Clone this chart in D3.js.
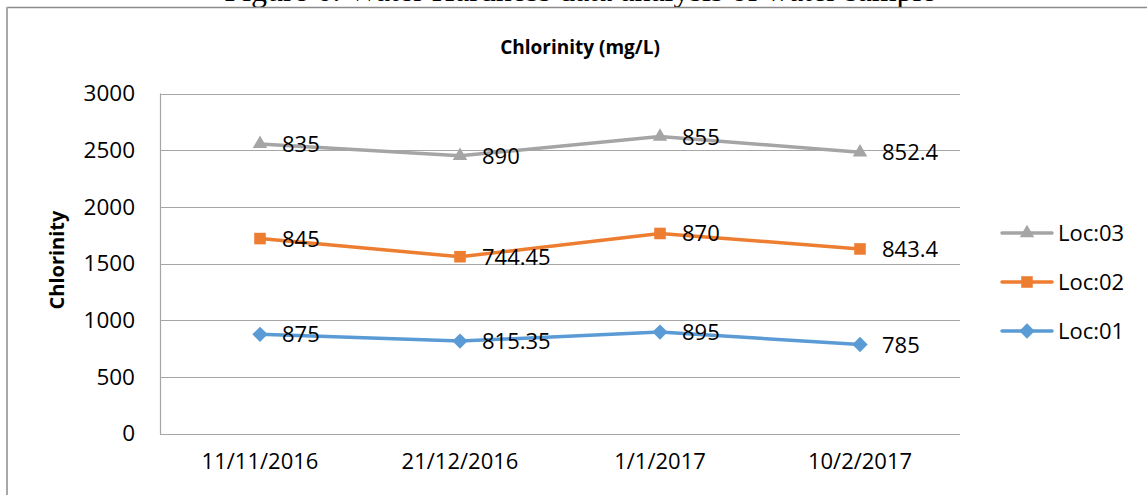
<!DOCTYPE html>
<html><head><meta charset="utf-8">
<script src="https://cdn.jsdelivr.net/npm/d3@7"></script>
<style>body{margin:0;background:#fff}svg{display:block}</style>
</head><body>
<script>
const categories = ["11/11/2016","21/12/2016","1/1/2017","10/2/2017"];
const loc01 = [875, 815.35, 895, 785];
const loc02 = [845, 744.45, 870, 843.4];
const loc03 = [835, 890, 855, 852.4];
const seriesNames = ["Loc:01","Loc:02","Loc:03"];
const yTicks = [0,500,1000,1500,2000,2500,3000];
const chartTitle = "Chlorinity (mg/L)";
const yTitle = "Chlorinity";
const caption = "Figure 6: Water Hardness data analysis of water sample";

const W = 1147, H = 495;
const svg = d3.select("body").append("svg").attr("width", W).attr("height", H);
const font = "'Open Sans', sans-serif";

// caption (clipped at the top edge as in the source)
svg.append("text").attr("x", 580).attr("y", 1).attr("text-anchor","middle")
  .attr("font-family","'Liberation Serif', serif").attr("font-size", 32).attr("fill","#000")
  .text(caption);

// chart frame
svg.append("line").attr("x1", 7).attr("x2", W).attr("y1", 7.5).attr("y2", 7.5)
  .attr("stroke","#8c8c8c").attr("stroke-width",1.5);
svg.append("line").attr("x1", 7).attr("x2", 7).attr("y1", 7).attr("y2", H)
  .attr("stroke","#a8a8a8").attr("stroke-width",2);

const plot = {left:160, right:960, top:93.5, bottom:433.5};
const x = d3.scaleBand().domain(categories).range([plot.left, plot.right]);
const y = d3.scaleLinear().domain([0,3000]).range([plot.bottom, plot.top]);

// stacked values
const seriesVals = [loc01, loc02, loc03];
const stacked = [];
let acc = categories.map(()=>0);
seriesVals.forEach(v => { acc = acc.map((a,i)=>a+v[i]); stacked.push(acc.slice()); });

// gridlines
svg.append("g").selectAll("line").data(yTicks).join("line")
  .attr("x1", plot.left).attr("x2", plot.right)
  .attr("y1", d=>Math.round(y(d))+0.5).attr("y2", d=>Math.round(y(d))+0.5)
  .attr("stroke","#a6a6a6").attr("stroke-width",1.2);
svg.append("line").attr("x1", plot.left+0.5).attr("x2", plot.left+0.5)
  .attr("y1", plot.top).attr("y2", plot.bottom+0.5).attr("stroke","#a6a6a6").attr("stroke-width",1.2);

// y axis labels
const yAxis = d3.axisLeft(y).tickValues(yTicks).tickFormat(d3.format("d")).tickSize(0).tickPadding(25);
const gy = svg.append("g").attr("transform",`translate(${plot.left},0)`).call(yAxis);
gy.select(".domain").remove();
gy.selectAll("text").attr("font-family",font).attr("font-size",22.5).attr("fill","#000");

// x axis labels
const xAxis = d3.axisBottom(x).tickSize(0).tickPadding(20);
const gx = svg.append("g").attr("transform",`translate(0,${plot.bottom})`).call(xAxis);
gx.select(".domain").remove();
gx.selectAll("text").attr("font-family",font).attr("font-size",22).attr("fill","#000");

// titles
svg.append("text").attr("x", 580).attr("y", 54).attr("text-anchor","middle")
  .attr("font-family",font).attr("font-weight","bold").attr("font-size",19).attr("fill","#000").text(chartTitle);
svg.append("text").attr("transform","translate(64,260) rotate(-90)").attr("text-anchor","middle")
  .attr("font-family",font).attr("font-weight","bold").attr("font-size",20).attr("fill","#000").text(yTitle);

const colors = ["#5B9BD5","#ED7D31","#A5A5A5"];
const symbols = [d3.symbolDiamond2, d3.symbolSquare2, d3.symbolTriangle2];
const symSize = [150, 170, 150];

const cx = c => x(c) + x.bandwidth()/2;
const line = d3.line().x((d,i)=>cx(categories[i])).y(d=>y(d));

stacked.forEach((vals, s) => {
  svg.append("path").datum(vals).attr("d", line).attr("fill","none")
    .attr("stroke", colors[s]).attr("stroke-width",3.5).attr("stroke-linejoin","round").attr("stroke-linecap","round");
  svg.append("g").selectAll("path").data(vals).join("path")
    .attr("transform",(d,i)=>`translate(${cx(categories[i])},${y(d)})`)
    .attr("d", d3.symbol().type(symbols[s]).size(symSize[s])).attr("fill", colors[s]);
  svg.append("g").selectAll("text").data(vals).join("text")
    .attr("x",(d,i)=>cx(categories[i])+22).attr("y", d=>y(d)+8)
    .attr("font-family",font).attr("font-size",22).attr("fill","#000")
    .text((d,i)=>seriesVals[s][i]);
});

// legend
const legendOrder = [2,1,0];
const lg = svg.append("g");
legendOrder.forEach((s,k)=>{
  const ly = 233 + k*49;
  lg.append("line").attr("x1",1002).attr("x2",1052).attr("y1",ly).attr("y2",ly)
    .attr("stroke",colors[s]).attr("stroke-width",3.5).attr("stroke-linecap","round");
  lg.append("path").attr("transform",`translate(1027,${ly})`)
    .attr("d", d3.symbol().type(symbols[s]).size(symSize[s])).attr("fill",colors[s]);
  lg.append("text").attr("x",1058).attr("y",ly+8).attr("font-family",font).attr("font-size",22)
    .attr("fill","#000").text(seriesNames[s]);
});
</script>
</body></html>
